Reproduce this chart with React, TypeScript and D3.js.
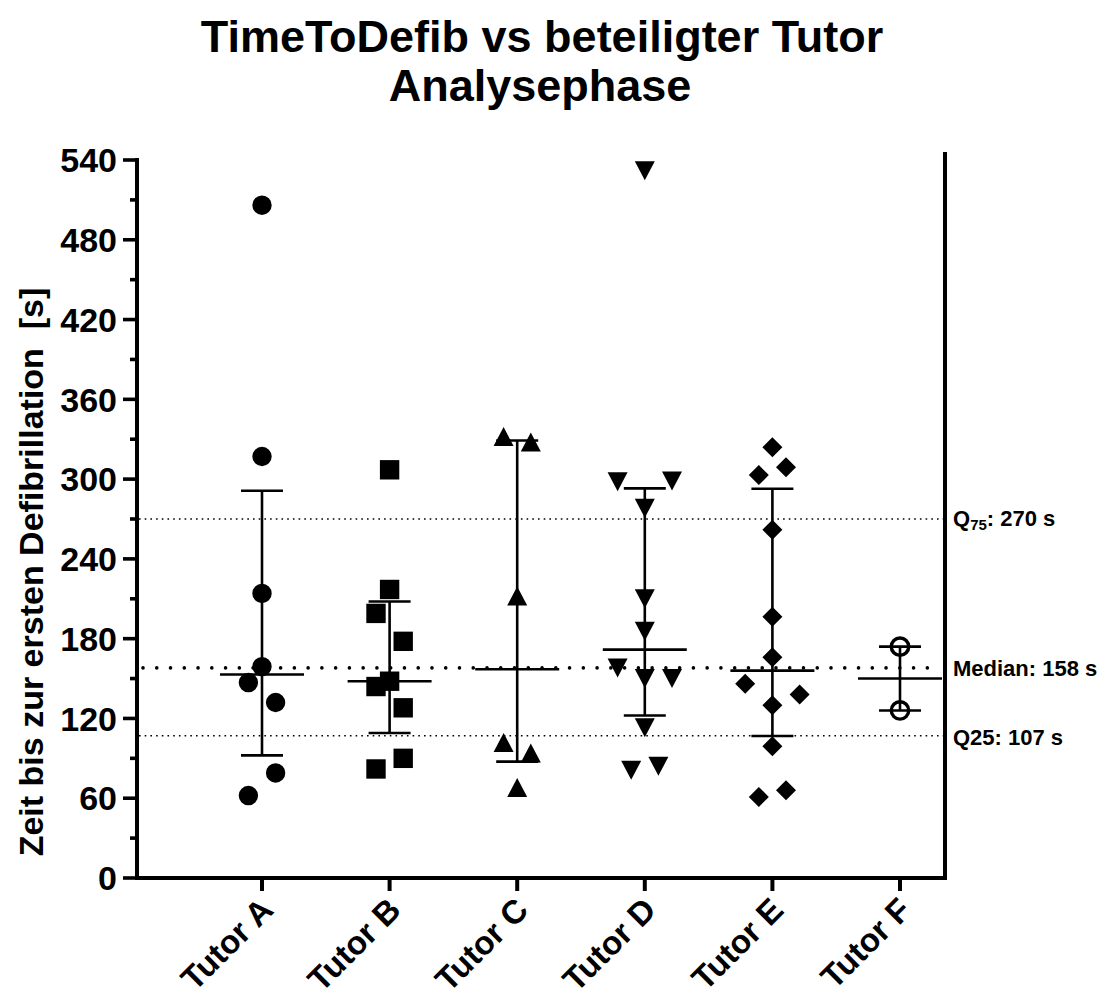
import React from "react";
import * as d3 from "d3";

// ---------- data ----------
const categories = ["Tutor A", "Tutor B", "Tutor C", "Tutor D", "Tutor E", "Tutor F"];
const tutorA = [506, 317, 214, 159, 147, 132, 79, 62];
const tutorB = [307, 217, 199, 178, 148, 144, 128, 90, 82];
const tutorC = [332, 328, 212, 102, 94, 68];
const tutorD = [532, 298, 298.5, 278, 210, 185.5, 158, 150, 150, 113, 81, 84];
const tutorE = [324, 309, 303, 262, 196.5, 166, 146, 138, 130, 99, 66, 61];
const tutorF = [174, 126];
// horizontal scatter slot of each point (GraphPad column scatter)
const slotsA = [0, 0, 0, 0, -1, 1, 1, -1];
const slotsB = [0, 0, -1, 1, 0, -1, 1, 1, -1];
const slotsC = [-1, 1, 0, -1, 1, 0];
const slotsD = [0, -2, 2, 0, 0, 0, -2, 0, 2, 0, -1, 1];
const slotsE = [0, 1, -1, 0, 0, 0, -2, 2, 0, 0, 1, -1];
const slotsF = [0, 0];
const symbolNames = ["circle", "square", "triangle", "triangleDown", "diamond", "circleOpen"];
const yTicks = [0, 60, 120, 180, 240, 300, 360, 420, 480, 540];
const yMinorTicks = [30, 90, 150, 210, 270, 330, 390, 450, 510];
const q75Value = 270;
const medianValue = 158;
const q25Value = 107;

const series = [tutorA, tutorB, tutorC, tutorD, tutorE, tutorF];
const slots = [slotsA, slotsB, slotsC, slotsD, slotsE, slotsF];

// GraphPad-style percentile (n+1 method)
function pct(values: number[], p: number) {
  const s = [...values].sort((a, b) => a - b);
  const n = s.length;
  const pos = p * (n + 1);
  if (pos <= 1) return s[0];
  if (pos >= n) return s[n - 1];
  const lo = Math.floor(pos);
  const f = pos - lo;
  return s[lo - 1] + f * (s[lo] - s[lo - 1]);
}

function symbolPath(name: string) {
  const r = 9.7;
  switch (name) {
    case "circle":
    case "circleOpen":
      return d3.symbol().type(d3.symbolCircle).size(Math.PI * (name === "circle" ? r * r : 8.7 * 8.7))();
    case "square":
      return "M-9.7,-9.7H9.7V9.7H-9.7Z";
    case "triangle":
      return "M0,-9.5L10,9.5L-10,9.5Z";
    case "triangleDown":
      return "M0,9.5L10,-9.5L-10,-9.5Z";
    case "diamond":
      return "M0,-10L10,0L0,10L-10,0Z";
  }
  return "";
}

const W = 1107;
const H = 1003;
const xLeft = 137;
const xRight = 945;
const yTop = 160;
const yBottom = 878;
const slotStep = 13.6;

export default function App() {
  const x = d3.scalePoint<string>().domain(categories).range([262, 900]);
  const y = d3.scaleLinear().domain([0, 540]).range([yBottom, yTop]);
  const font = "'Liberation Sans', Arial, Helvetica, sans-serif";

  return (
    <svg
      width={W}
      height={H}
      viewBox={`0 0 ${W} ${H}`}
      style={{ position: "absolute", left: 0, top: 0, background: "#fff" }}
      fontFamily={font}
    >
      {/* title */}
      <text x={542} y={52} textAnchor="middle" fontSize={45} fontWeight="bold">
        TimeToDefib vs beteiligter Tutor
      </text>
      <text x={540} y={101} textAnchor="middle" fontSize={45} fontWeight="bold">
        Analysephase
      </text>

      {/* error bars: median with interquartile range */}
      {series.map((vals, i) => {
        const cx = x(categories[i])!;
        const q1 = pct(vals, 0.25);
        const q3 = pct(vals, 0.75);
        const med = pct(vals, 0.5);
        return (
          <g key={"eb" + i} stroke="#000" strokeWidth={2.6}>
            <line x1={cx} x2={cx} y1={y(q3)} y2={y(q1)} />
            <line x1={cx - 21} x2={cx + 21} y1={y(q3)} y2={y(q3)} />
            <line x1={cx - 21} x2={cx + 21} y1={y(q1)} y2={y(q1)} />
            <line x1={cx - 42} x2={cx + 42} y1={y(med)} y2={y(med)} />
          </g>
        );
      })}

      {/* reference lines */}
      <line x1={xLeft + 2} x2={xRight} y1={y(q75Value)} y2={y(q75Value)} stroke="#000" strokeWidth={1.6} strokeDasharray="1.6 4.1" />
      <line x1={xLeft + 2} x2={xRight} y1={y(q25Value)} y2={y(q25Value)} stroke="#000" strokeWidth={1.6} strokeDasharray="1.6 4.1" />
      <line x1={xLeft + 6} x2={xRight - 4} y1={y(medianValue)} y2={y(medianValue)} stroke="#000" strokeWidth={3.6} strokeLinecap="round" strokeDasharray="0.01 13.75" />

      {/* points */}
      {series.map((vals, i) => {
        const cx = x(categories[i])!;
        const name = symbolNames[i];
        const d = symbolPath(name);
        return (
          <g key={"pts" + i}>
            {vals.map((v, j) => (
              <path
                key={j}
                d={d}
                transform={`translate(${cx + slots[i][j] * slotStep},${y(v)})`}
                fill={name === "circleOpen" ? "none" : "#000"}
                stroke={name === "circleOpen" ? "#000" : "none"}
                strokeWidth={name === "circleOpen" ? 3.4 : 0}
              />
            ))}
          </g>
        );
      })}

      {/* y axis */}
      <line x1={xLeft} x2={xLeft} y1={yTop - 2} y2={yBottom + 2} stroke="#000" strokeWidth={4} />
      {yTicks.map((t) => (
        <g key={"yt" + t}>
          <line x1={xLeft - 14} x2={xLeft} y1={y(t)} y2={y(t)} stroke="#000" strokeWidth={3.6} />
          <text x={117} y={y(t)} dy="0.36em" textAnchor="end" fontSize={34} fontWeight="bold">
            {t}
          </text>
        </g>
      ))}
      {yMinorTicks.map((t) => (
        <line key={"ym" + t} x1={xLeft - 7} x2={xLeft} y1={y(t)} y2={y(t)} stroke="#000" strokeWidth={3.6} />
      ))}
      <text
        transform={`translate(43,572) rotate(-90)`}
        textAnchor="middle"
        fontSize={34}
        fontWeight="bold"
      >
        {"Zeit bis zur ersten Defibrillation\u00A0\u00A0[s]"}
      </text>

      {/* x axis */}
      <line x1={xLeft - 2} x2={xRight + 2} y1={yBottom} y2={yBottom} stroke="#000" strokeWidth={4} />
      <line x1={xRight} x2={xRight} y1={152} y2={yBottom + 2} stroke="#000" strokeWidth={4} />
      {categories.map((c) => (
        <g key={"xt" + c}>
          <line x1={x(c)!} x2={x(c)!} y1={yBottom} y2={yBottom + 13} stroke="#000" strokeWidth={4} />
          <text
            transform={`translate(${x(c)! + 13},912) rotate(-45)`}
            textAnchor="end"
            fontSize={33}
            fontWeight="bold"
          >
            {c}
          </text>
        </g>
      ))}

      {/* right-side labels */}
      <text x={953} y={526} fontSize={22} fontWeight="bold">
        Q<tspan fontSize={15} dy={4}>75</tspan>
        <tspan dy={-4}>: 270 s</tspan>
      </text>
      <text x={953} y={676} fontSize={22} fontWeight="bold">
        Median: 158 s
      </text>
      <text x={953} y={745} fontSize={22} fontWeight="bold">
        Q25: 107 s
      </text>
    </svg>
  );
}
